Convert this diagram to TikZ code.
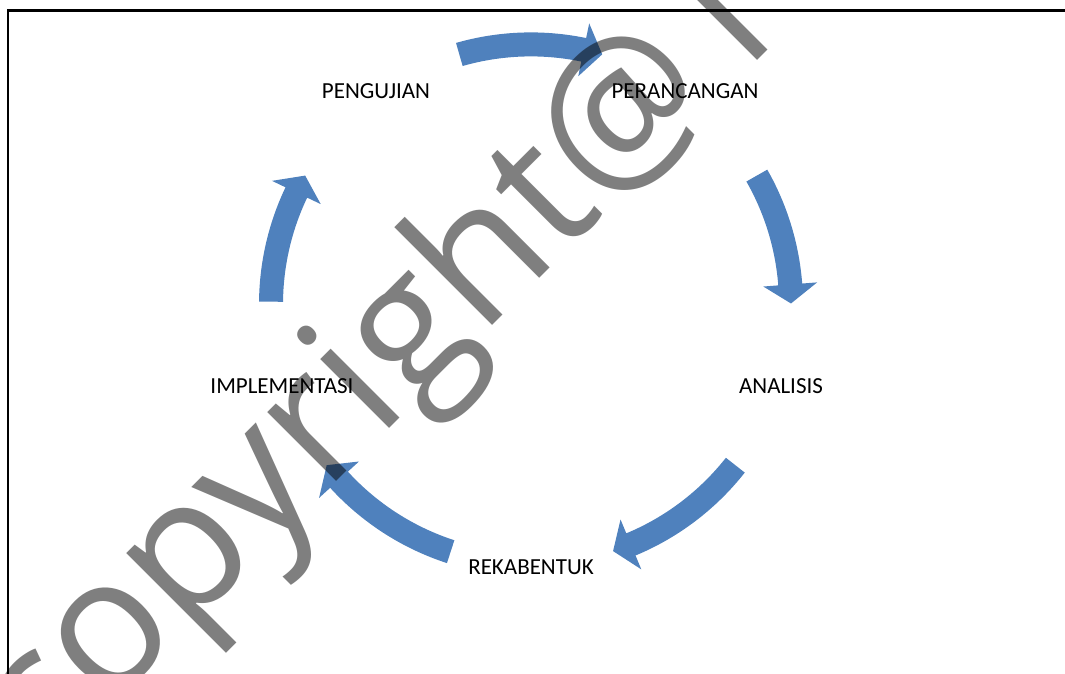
\documentclass[tikz,border=0pt]{standalone}
\usepackage{fontspec}
\setmainfont{Carlito}
\newfontfamily\wmfont{Open Sans}
\definecolor{arrowblue}{HTML}{4F81BD}
\newcommand\cycarrow[2]{% tail angle, tip angle (clockwise)
  \pgfmathsetmacro\hb{#2+4.2}
  \fill[cycfill] (#1:272) arc[start angle=#1,end angle=\hb,radius=272]
    -- (\hb:287) -- (#2:260) -- (\hb:233) -- (\hb:248)
    arc[start angle=\hb,end angle=#1,radius=248] -- cycle;}
\begin{document}
\begin{tikzpicture}[x=1pt,y=1pt,
  lbl/.style={font=\fontsize{23}{27}\selectfont, text=black, inner sep=0pt, anchor=base},
  wm/.style={font=\wmfont\fontsize{182}{190}\selectfont, text=black, text opacity=0.5, inner sep=0pt, anchor=base west, rotate=45},
  cycfill/.style={fill=arrowblue},
  frame/.style={line width=2.5pt, black}]
\useasboundingbox (0,0) rectangle (1065,673);
\clip (0,0) rectangle (1065,673);
% cycle arrows
\begin{scope}[shift={(531,368.6)}]
  \cycarrow{106}{74.1}
  \cycarrow{29.7}{0.2}
  \cycarrow{-38.2}{-71.6}
  \cycarrow{252}{218.2}
  \cycarrow{179.4}{150.3}
\end{scope}
% watermark
\node[wm] (wmark) at (45.3,-99.3) {copyright@\kern35pt l};
% labels
\node[lbl] (pengujian) at (376,574) {PENGUJIAN};
\node[lbl] (perancangan) at (685,574) {PERANCANGAN};
\node[lbl] (analisis) at (781,280) {ANALISIS};
\node[lbl] (rekabentuk) at (531,99) {REKABENTUK};
\node[lbl] (implementasi) at (282,280) {IMPLEMENTASI};
% frame
\coordinate (fbl) at (8,-5);
\coordinate (ftl) at (8,662.5);
\coordinate (ftr) at (1070,662.5);
\draw[frame] (fbl) -- (ftl) -- (ftr);
\end{tikzpicture}
\end{document}
